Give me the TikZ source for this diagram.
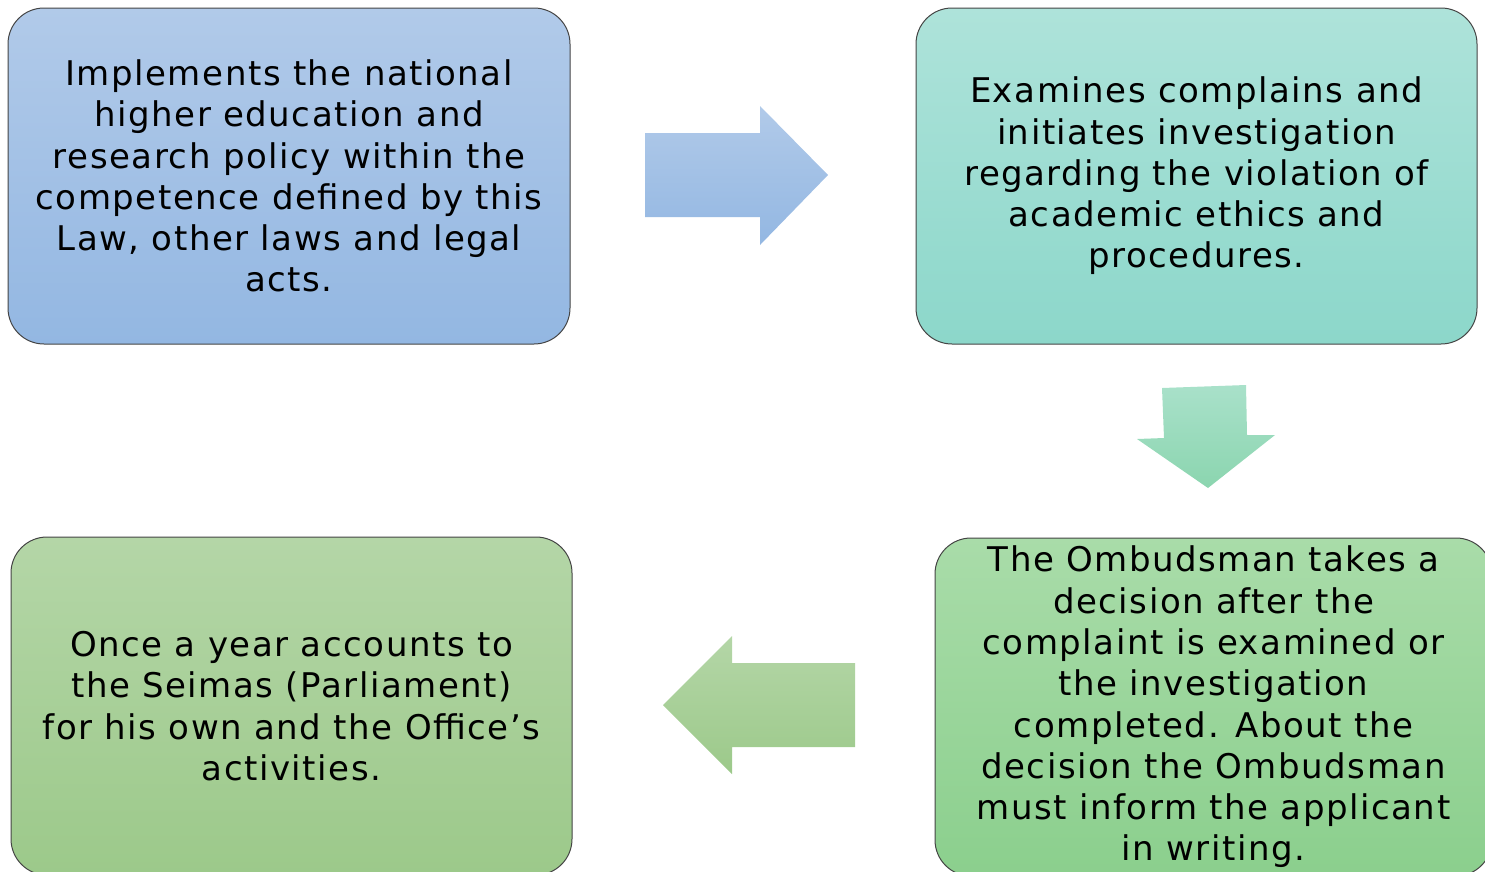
\documentclass[tikz,border=0pt]{standalone}
\usepackage{fontspec}
\setmainfont{DejaVu Sans}[LetterSpace=4.5]
\usetikzlibrary{shadings}
\definecolor{bluetop}{HTML}{B1CAE9}
\definecolor{bluebot}{HTML}{93B7E2}
\definecolor{tealtop}{HTML}{AEE3DA}
\definecolor{tealbot}{HTML}{8CD7CA}
\definecolor{greentop}{HTML}{A9DCA9}
\definecolor{greenbot}{HTML}{8BCF8D}
\definecolor{olivetop}{HTML}{B4D6A7}
\definecolor{olivebot}{HTML}{9CC98A}
\definecolor{mintop}{HTML}{A9E1CA}
\definecolor{minbot}{HTML}{8BD5AF}
\definecolor{edge}{HTML}{454545}
\tikzset{
  box/.style={draw=edge, line width=1pt, rounded corners=36pt, align=center,
    inner sep=0pt, font=\fontsize{34}{41.3}\selectfont},
}
\begin{document}
\begin{tikzpicture}[x=1pt,y=-1pt]
\useasboundingbox (0,0) rectangle (1485,871);
\clip (0,0) rectangle (1485,871);
\node[box, top color=bluetop, bottom color=bluebot, minimum width=562pt, minimum height=336pt]
  (b1) at (289,176) {Implements the national\\higher education and\\research policy within the\\competence defined by this\\Law, other laws and legal\\acts.};
\node[box, top color=tealtop, bottom color=tealbot, minimum width=561pt, minimum height=336pt]
  (b2) at (1196.5,176) {Examines complains and\\initiates investigation\\regarding the violation of\\academic ethics and\\procedures.};
\node[box, top color=greentop, bottom color=greenbot, minimum width=557pt, minimum height=338pt]
  (b3) at (1213.5,707) {The Ombudsman takes a\\decision after the\\complaint is examined or\\the investigation\\completed. About the\\decision the Ombudsman\\must inform the applicant\\in writing.};
\node[box, top color=olivetop, bottom color=olivebot, minimum width=561pt, minimum height=338pt]
  (b4) at (291.5,706) {Once a year accounts to\\the Seimas (Parliament)\\for his own and the Office’s\\activities.};
% arrows
\shade[top color=bluetop, bottom color=bluebot]
  (645,133) -- (760,133) -- (760,106) -- (828,175) -- (760,245) -- (760,217) -- (645,217) -- cycle;
\shade[top color=mintop, bottom color=minbot]
  (1162,388) -- (1246,385) -- (1247,435) -- (1275,435) -- (1208,488) -- (1137,439) -- (1164,438) -- cycle;
\shade[top color=olivetop, bottom color=olivebot]
  (855,663) -- (732,663) -- (732,636) -- (663,705) -- (732,774) -- (732,747) -- (855,747) -- cycle;
\end{tikzpicture}
\end{document}
